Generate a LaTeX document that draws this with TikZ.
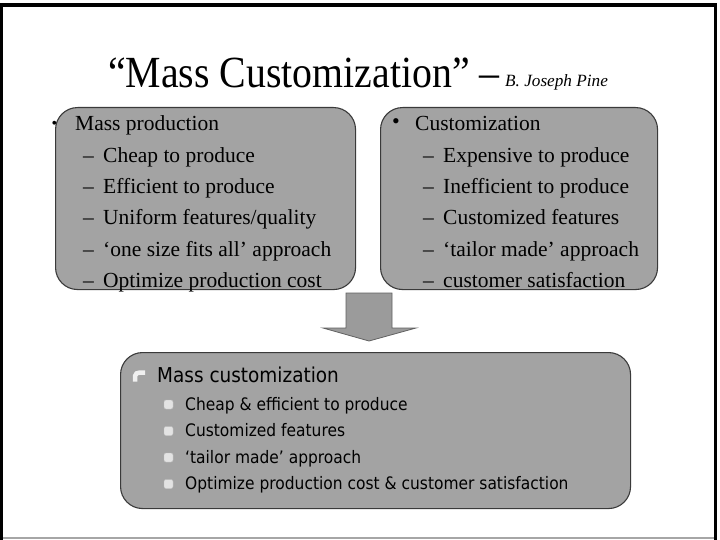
\documentclass[tikz,border=0pt]{standalone}
\usepackage{fontspec}
\setmainfont{Liberation Serif}
\newfontfamily\titlefont[FakeStretch=0.895]{Liberation Serif}
\newfontfamily\condsans[FakeStretch=0.9]{DejaVu Sans}
\definecolor{boxgray}{HTML}{A3A3A3}
\definecolor{edgegray}{HTML}{3A3A3A}
\tikzset{
  panel/.style={draw=edgegray, line width=1.1pt, fill=boxgray, rounded corners=22pt, inner sep=0pt, anchor=north west},
  serifline/.style={anchor=base west, inner sep=0pt, font=\fontsize{21.5}{24}\selectfont},
  sansline/.style={anchor=base west, inner sep=0pt, font=\condsans\fontsize{17.2}{20}\selectfont},
  bul/.style={anchor=center, inner sep=0pt, font=\fontsize{22}{22}\selectfont},
  titletext/.style={anchor=base west, inner sep=0pt, font=\titlefont\fontsize{44.5}{48}\selectfont},
  subicon/.style={draw=gray!50, fill=gray!22, rounded corners=2pt, minimum width=9pt, minimum height=9pt, inner sep=0pt},
}
\begin{document}
\begin{tikzpicture}[x=1pt,y=-1pt]
\useasboundingbox (0,0) rectangle (720,540);
% frame
\draw[gray!70, line width=1.2pt] (2,538) -- (715,538);
\draw[black, line width=3.5pt] (1.5,540) -- (1.5,5) -- (715.5,5) -- (715.5,540);
% title
\node[titletext] (title) at (108,87.5) {“Mass Customization”};
\node[titletext] (tdash) at (479,87.5) {–};
\node[anchor=base west, inner sep=0pt, font=\itshape\fontsize{17.2}{19}\selectfont] (author) at (505,87) {B. Joseph Pine};
% left panel
\node[panel, minimum width=300pt, minimum height=182pt] (lbox) at (55,107) {};
\node[bul, font=\fontsize{16}{16}\selectfont] (lb) at (54.5,124.5) {•};
\node[serifline] (l0) at (75,131) {Mass production};
\foreach \t [count=\i] in {Cheap to produce, Efficient to produce, Uniform features/quality, ‘one size fits all’ approach, Optimize production cost}{
  \node[serifline] (ld\i) at (83,{131+31.3*\i}) {–};
  \node[serifline] (l\i) at (103,{131+31.3*\i}) {\t};
}
% right panel
\node[panel, minimum width=277pt, minimum height=182pt] (rbox) at (380,107) {};
\node[bul] (rb) at (396,124) {•};
\node[serifline] (r0) at (415,131) {Customization};
\foreach \t [count=\i] in {Expensive to produce, Inefficient to produce, Customized features, ‘tailor made’ approach, customer satisfaction}{
  \node[serifline] (rd\i) at (423,{131+31.3*\i}) {–};
  \node[serifline] (r\i) at (443,{131+31.3*\i}) {\t};
}
% arrow
\coordinate (atop) at (369,293);
\coordinate (atip) at (369,341);
\draw[draw=edgegray!80, fill=boxgray!95!black, line width=0.8pt, line join=miter]
  (346,293) -- (392,293) -- (392,328) -- (416,328) -- (atip) -- (323,328) -- (346,328) -- cycle;
% bottom panel
\node[panel, minimum width=510pt, minimum height=156pt] (bbox) at (120,352) {};
\draw[gray!12, line width=4.5pt, line cap=butt] (135,381.5) -- (135,376) to[out=90,in=180] (140,372.5) -- (145,372.5);
\node[anchor=base west, inner sep=0pt, font=\condsans\fontsize{20.5}{22}\selectfont] (b0) at (157,382) {Mass customization};
\foreach \t [count=\i] in {Cheap \& efficient to produce, Customized features, ‘tailor made’ approach, Optimize production cost \& customer satisfaction}{
  \node[subicon] (bi\i) at (168.5,{404.5+26.5*(\i-1)}) {};
  \node[sansline] (b\i) at (185,{410+26.5*(\i-1)}) {\t};
}
\end{tikzpicture}
\end{document}
